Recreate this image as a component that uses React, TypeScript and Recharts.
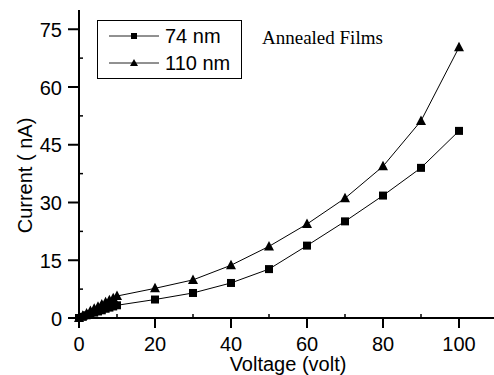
import React from 'react';
import { LineChart, Line, XAxis, YAxis, Legend, Customized } from 'recharts';

const voltage = [0, 1, 2, 3, 4, 5, 6, 7, 8, 9, 10, 20, 30, 40, 50, 60, 70, 80, 90, 100];
const current74 = [0, 0.3, 0.7, 1.0, 1.4, 1.7, 2.0, 2.4, 2.7, 3.0, 3.3, 4.8, 6.5, 9.1, 12.7, 18.8, 25.1, 31.8, 39.0, 48.6];
const current110 = [0, 0.6, 1.2, 1.8, 2.4, 2.9, 3.5, 4.1, 4.6, 5.1, 5.7, 7.7, 9.9, 13.7, 18.6, 24.4, 31.1, 39.4, 51.2, 70.3];

const seriesNames = ['74 nm', '110 nm'];
const seriesKeys = ['a', 'b'];
const xMajorTicks = [0, 20, 40, 60, 80, 100];
const xAllTicks = [0, 10, 20, 30, 40, 50, 60, 70, 80, 90, 100, 110];
const yMajorTicks = [0, 15, 30, 45, 60, 75];
const yAllTicks = [0, 7.5, 15, 22.5, 30, 37.5, 45, 52.5, 60, 67.5, 75];
const xTitle = 'Voltage (volt)';
const yTitle = 'Current ( nA)';
const annotation = 'Annealed Films';

const data = voltage.map((v, i) => ({ v, a: current74[i], b: current110[i] }));

const SANS = '"Liberation Sans", Arial, sans-serif';
const SERIF = '"Liberation Serif", "Times New Roman", serif';

const XTick = (props: any) => {
  const { x, y, payload } = props;
  const major = xMajorTicks.includes(payload.value);
  if (major) {
    return (
      <g>
        <line x1={x} y1={y} x2={x} y2={y + 10} stroke="#000" strokeWidth={2} />
        <text x={x} y={y + 32.5} textAnchor="middle" fontSize={20} fontFamily={SANS} fill="#000">
          {payload.value}
        </text>
      </g>
    );
  }
  return <line x1={x} y1={y} x2={x} y2={y - 4} stroke="#000" strokeWidth={1.5} />;
};

const TopTick = (props: any) => {
  const { x, y } = props;
  return <line x1={x} y1={y} x2={x} y2={y + 3} stroke="#000" strokeWidth={1.5} />;
};

const YTick = (props: any) => {
  const { x, y, payload } = props;
  const major = yMajorTicks.includes(payload.value);
  if (major) {
    return (
      <g>
        <line x1={x - 11} y1={y} x2={x} y2={y} stroke="#000" strokeWidth={2} />
        <text x={x - 17} y={y + 7.5} textAnchor="end" fontSize={20} fontFamily={SANS} fill="#000">
          {payload.value}
        </text>
      </g>
    );
  }
  return <line x1={x} y1={y} x2={x + 4} y2={y} stroke="#000" strokeWidth={1.5} />;
};

const SquareDot = (props: any) => {
  const { cx, cy, index } = props;
  if (cx == null || cy == null) return <g key={index} />;
  return <rect key={index} x={cx - 4} y={cy - 4} width={8} height={8} fill="#000" />;
};

const TriangleDot = (props: any) => {
  const { cx, cy, index } = props;
  if (cx == null || cy == null) return <g key={index} />;
  return (
    <polygon
      key={index}
      points={`${cx},${cy - 5.5} ${cx - 5},${cy + 4} ${cx + 5},${cy + 4}`}
      fill="#000"
    />
  );
};

const LegendContent = (props: any) => {
  const payload = [...(props.payload || [])].sort(
    (p: any, q: any) => seriesKeys.indexOf(p.dataKey) - seriesKeys.indexOf(q.dataKey)
  );
  return (
    <div
      style={{
        width: 145,
        height: 59,
        border: '1px solid #000',
        boxSizing: 'border-box',
        background: '#fff',
        position: 'relative',
      }}
    >
      {payload.map((p: any, i: number) => (
        <div
          key={p.value}
          style={{ position: 'absolute', left: 10, top: 3 + i * 27, height: 24, display: 'flex', alignItems: 'center' }}
        >
          <svg width={52} height={24} style={{ display: 'block' }}>
            <line x1={1} y1={12} x2={51} y2={12} stroke="#222" strokeWidth={1} />
            {p.dataKey === 'a' ? (
              <rect x={23} y={9} width={6} height={6} fill="#000" />
            ) : (
              <polygon points="26,8 22,15 30,15" fill="#000" />
            )}
          </svg>
          <span style={{ marginLeft: 5, fontFamily: SANS, fontSize: 20, color: '#000', lineHeight: '24px' }}>
            {p.value}
          </span>
        </div>
      ))}
    </div>
  );
};

const Annotation = () => (
  <text x={262} y={44} fontFamily={SERIF} fontSize={19} fill="#000">
    {annotation}
  </text>
);

export default function App() {
  return (
    <div style={{ position: 'absolute', left: 0, top: 0, width: 494, height: 375, overflow: 'hidden', background: '#fff' }}>
      <LineChart
        width={510}
        height={375}
        data={data}
        margin={{ top: 10, right: 13, bottom: 0, left: 0 }}
      >
        <XAxis
          dataKey="v"
          type="number"
          domain={[0, 110]}
          ticks={xAllTicks}
          interval={0}
          tickSize={0}
          tickMargin={0}
          tickLine={false}
          tick={<XTick />}
          axisLine={{ stroke: '#000', strokeWidth: 2 }}
          height={57}
          label={(p: any) => (
            <text x={288} y={371} textAnchor="middle" fontFamily={SANS} fontSize={20} fill="#000">
              {xTitle}
            </text>
          )}
        />
        <XAxis
          xAxisId="top"
          orientation="top"
          dataKey="v"
          type="number"
          domain={[0, 110]}
          ticks={xAllTicks}
          interval={0}
          tickSize={0}
          tickMargin={0}
          tickLine={false}
          tick={<TopTick />}
          axisLine={{ stroke: '#000', strokeWidth: 2 }}
          height={0}
        />
        <YAxis
          type="number"
          domain={[0, 80]}
          ticks={yAllTicks}
          interval={0}
          tickSize={0}
          tickMargin={0}
          tickLine={false}
          tick={<YTick />}
          axisLine={{ stroke: '#000', strokeWidth: 2 }}
          width={79}
          label={(p: any) => (
            <text
              x={32}
              y={175.5}
              transform="rotate(-90 32 175.5)"
              textAnchor="middle"
              fontFamily={SANS}
              fontSize={20}
              fill="#000"
            >
              {yTitle}
            </text>
          )}
        />
        <Legend
          layout="vertical"
          align="center"
          verticalAlign="middle"
          content={<LegendContent />}
          wrapperStyle={{ left: 97, top: 20, width: 145, height: 59 }}
        />
        <Line
          dataKey="a"
          name={seriesNames[0]}
          stroke="#000"
          strokeWidth={1}
          dot={SquareDot}
          activeDot={false}
          isAnimationActive={false}
        />
        <Line
          dataKey="b"
          name={seriesNames[1]}
          stroke="#000"
          strokeWidth={1}
          dot={TriangleDot}
          activeDot={false}
          isAnimationActive={false}
        />
        <Customized component={Annotation} />
      </LineChart>
    </div>
  );
}
